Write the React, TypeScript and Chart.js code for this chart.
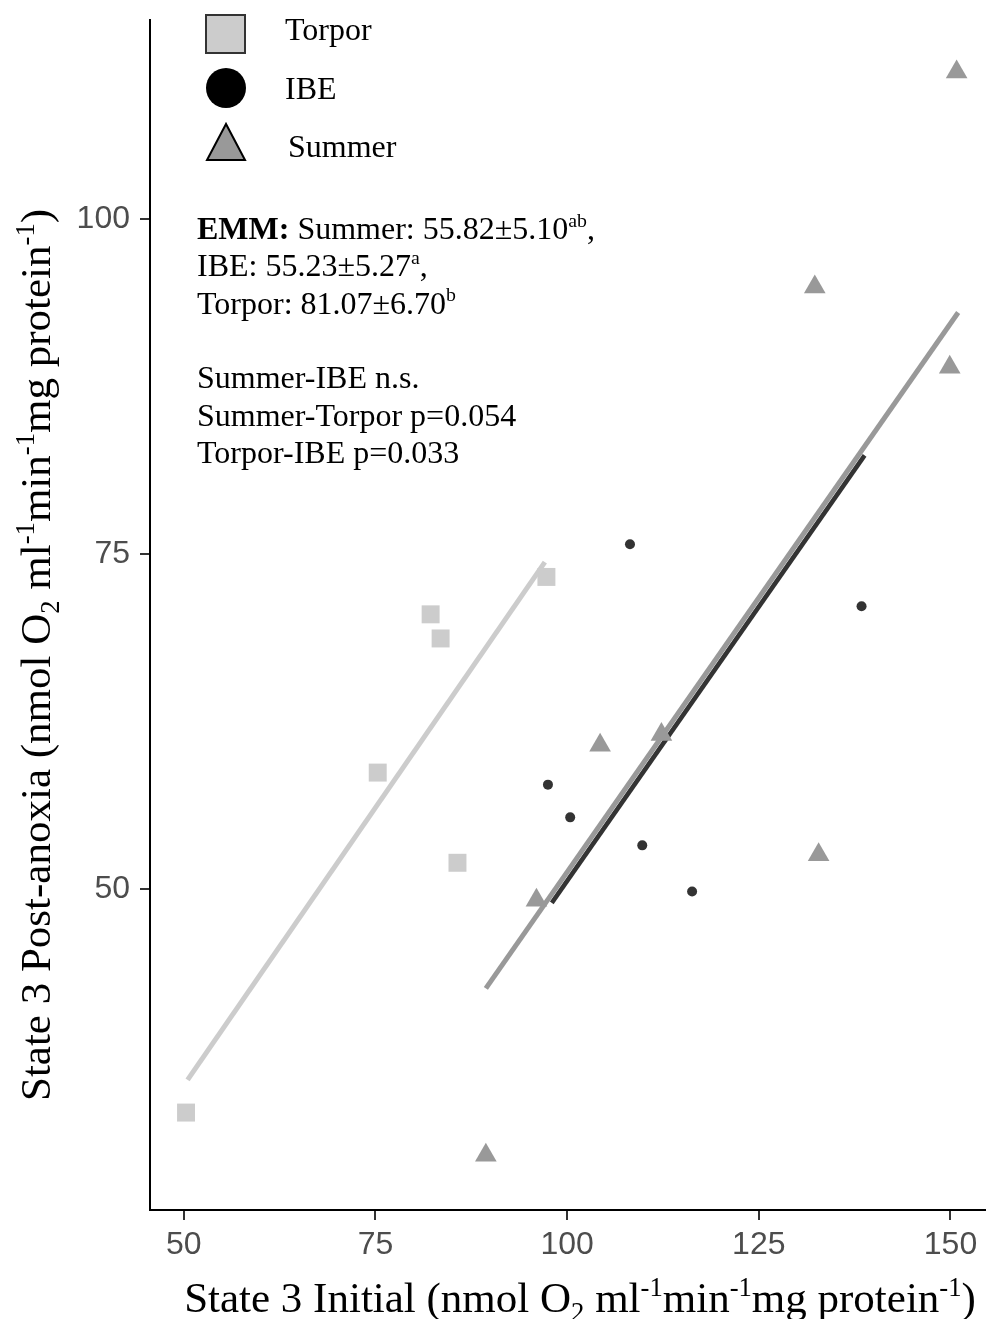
import React, { useEffect, useRef } from "react";
import { Chart, registerables } from "chart.js";
Chart.register(...registerables);

// ---- data ----
const torporX = [50.3, 75.3, 82.2, 83.5, 85.7, 97.3];
const torporY = [33.32, 58.69, 70.5, 68.7, 51.96, 73.29];
const ibeX = [108.2, 138.4, 97.5, 100.4, 109.8, 116.3];
const ibeY = [75.73, 71.1, 57.79, 55.35, 53.26, 49.82];
const summerX = [150.8, 132.3, 149.9, 104.3, 112.3, 96.0, 132.8, 89.4];
const summerY = [110.97, 94.92, 88.94, 60.73, 61.53, 49.17, 52.56, 30.13];

const torporLineX = [50.5, 97.1];
const torporLineY = [35.76, 74.39];
const summerLineX = [89.4, 151.0];
const summerLineY = [42.59, 93.02];
const ibeLineX = [98.0, 138.8];
const ibeLineY = [48.97, 82.36];

const xTicks = [50, 75, 100, 125, 150];
const yTicks = [50, 75, 100];

const legendLabels = ["Torpor", "IBE", "Summer"];

type Seg = { t: string; sup?: boolean; sub?: boolean; bold?: boolean };

const annotationLines: Seg[][] = [
  [{ t: "EMM:", bold: true }, { t: " Summer: 55.82±5.10" }, { t: "ab", sup: true }, { t: "," }],
  [{ t: "IBE: 55.23±5.27" }, { t: "a", sup: true }, { t: "," }],
  [{ t: "Torpor: 81.07±6.70" }, { t: "b", sup: true }],
  [],
  [{ t: "Summer-IBE n.s." }],
  [{ t: "Summer-Torpor p=0.054" }],
  [{ t: "Torpor-IBE p=0.033" }],
];

const unitSegs: Seg[] = [
  { t: " (nmol O" },
  { t: "2", sub: true },
  { t: " ml" },
  { t: "-1", sup: true },
  { t: "min" },
  { t: "-1", sup: true },
  { t: "mg protein" },
  { t: "-1", sup: true },
  { t: ")" },
];
const xTitle: Seg[] = [{ t: "State 3 Initial" }, ...unitSegs];
const yTitle: Seg[] = [{ t: "State 3 Post-anoxia" }, ...unitSegs];

const SERIF = '"Liberation Serif", "Times New Roman", serif';
const SANS = '"Liberation Sans", Arial, sans-serif';

function segFont(s: Seg, size: number) {
  const sz = s.sup || s.sub ? size * 0.62 : size;
  return `${s.bold ? "bold " : ""}${sz}px ${SERIF}`;
}

function drawRich(ctx: CanvasRenderingContext2D, segs: Seg[], x: number, y: number, size: number, align: "left" | "center") {
  let total = 0;
  for (const s of segs) {
    ctx.font = segFont(s, size);
    total += ctx.measureText(s.t).width;
  }
  let cx = align === "center" ? x - total / 2 : x;
  ctx.textAlign = "left";
  ctx.textBaseline = "alphabetic";
  for (const s of segs) {
    ctx.font = segFont(s, size);
    const dy = s.sup ? -size * 0.38 : s.sub ? size * 0.2 : 0;
    ctx.fillText(s.t, cx, y + dy);
    cx += ctx.measureText(s.t).width;
  }
}

const overlayPlugin = {
  id: "overlay",
  afterDraw(chart: any) {
    const ctx: CanvasRenderingContext2D = chart.ctx;
    ctx.save();
    // legend
    ctx.lineWidth = 2;
    ctx.fillStyle = "#cccccc";
    ctx.strokeStyle = "#333333";
    ctx.fillRect(206, 15, 39, 38);
    ctx.strokeRect(206, 15, 39, 38);
    ctx.fillStyle = "#000000";
    ctx.beginPath();
    ctx.arc(226, 88, 20, 0, Math.PI * 2);
    ctx.fill();
    ctx.fillStyle = "#999999";
    ctx.strokeStyle = "#000000";
    ctx.beginPath();
    ctx.moveTo(226, 124);
    ctx.lineTo(207, 160);
    ctx.lineTo(245, 160);
    ctx.closePath();
    ctx.fill();
    ctx.stroke();

    ctx.fillStyle = "#000000";
    ctx.font = `32px ${SERIF}`;
    ctx.textAlign = "left";
    ctx.textBaseline = "alphabetic";
    ctx.fillText(legendLabels[0], 285, 40);
    ctx.fillText(legendLabels[1], 285, 99);
    ctx.fillText(legendLabels[2], 288, 157);

    // annotations
    const baseY = 239;
    const step = 37.3;
    annotationLines.forEach((segs, i) => {
      if (segs.length) drawRich(ctx, segs, 197, baseY + i * step, 32, "left");
    });

    // axis titles
    drawRich(ctx, xTitle, 580, 1312, 43, "center");
    ctx.translate(50, 655);
    ctx.rotate(-Math.PI / 2);
    drawRich(ctx, yTitle, 0, 0, 43, "center");
    ctx.restore();
  },
};

function pts(xs: number[], ys: number[]) {
  return xs.map((x, i) => ({ x, y: ys[i] }));
}

export default function App() {
  const ref = useRef<HTMLCanvasElement | null>(null);
  useEffect(() => {
    if (!ref.current) return;
    const chart = new Chart(ref.current, {
      type: "scatter",
      data: {
        datasets: [
          {
            label: "Summer",
            data: pts(summerX, summerY),
            pointStyle: "triangle",
            pointRadius: 12.5,
            backgroundColor: "#999999",
            borderWidth: 0,
          },
          {
            label: "IBE",
            data: pts(ibeX, ibeY),
            pointStyle: "circle",
            pointRadius: 5,
            backgroundColor: "#333333",
            borderWidth: 0,
          },
          {
            label: "Torpor",
            data: pts(torporX, torporY),
            pointStyle: "rect",
            pointRadius: 12.7,
            backgroundColor: "#cccccc",
            borderWidth: 0,
          },
          {
            label: "Summer fit",
            data: pts(summerLineX, summerLineY),
            showLine: true,
            pointRadius: 0,
            borderColor: "#999999",
            borderWidth: 5,
            borderCapStyle: "butt",
          },
          {
            label: "IBE fit",
            data: pts(ibeLineX, ibeLineY),
            showLine: true,
            pointRadius: 0,
            borderColor: "#333333",
            borderWidth: 4.5,
            borderCapStyle: "butt",
          },
          {
            label: "Torpor fit",
            data: pts(torporLineX, torporLineY),
            showLine: true,
            pointRadius: 0,
            borderColor: "#cccccc",
            borderWidth: 5,
            borderCapStyle: "butt",
          },
        ],
      },
      options: {
        responsive: false,
        animation: false,
        devicePixelRatio: 1,
        layout: { autoPadding: false, padding: { left: 50, top: 20, right: 1, bottom: 59 } },
        plugins: { legend: { display: false }, tooltip: { enabled: false } },
        scales: {
          x: {
            type: "linear",
            min: 45.6,
            max: 154.5,
            afterBuildTicks: (s: any) => {
              s.ticks = xTicks.map((v) => ({ value: v }));
            },
            afterFit: (s: any) => {
              s.height = 50;
              s.paddingLeft = 0;
              s.paddingRight = 0;
            },
            ticks: {
              color: "#4d4d4d",
              font: { family: SANS, size: 32 },
              padding: 6,
              maxRotation: 0,
              autoSkip: false,
            },
            grid: { drawOnChartArea: false, drawTicks: true, tickLength: 10, color: "#333333", lineWidth: 2 },
            border: { display: true, color: "#000000", width: 2 },
          },
          y: {
            type: "linear",
            min: 26.05,
            max: 114.85,
            afterBuildTicks: (s: any) => {
              s.ticks = yTicks.map((v) => ({ value: v }));
            },
            afterFit: (s: any) => {
              s.width = 100;
              s.paddingTop = 0;
              s.paddingBottom = 0;
            },
            ticks: {
              color: "#4d4d4d",
              font: { family: SANS, size: 32 },
              padding: 10,
              autoSkip: false,
            },
            grid: { drawOnChartArea: false, drawTicks: true, tickLength: 10, color: "#333333", lineWidth: 2 },
            border: { display: true, color: "#000000", width: 2 },
          },
        },
      },
      plugins: [overlayPlugin],
    } as any);
    return () => chart.destroy();
  }, []);
  return (
    <div style={{ position: "absolute", left: 0, top: 0, width: 986, height: 1319, background: "#ffffff" }}>
      <canvas ref={ref} width={986} height={1319} style={{ display: "block", width: 986, height: 1319 }} />
    </div>
  );
}
